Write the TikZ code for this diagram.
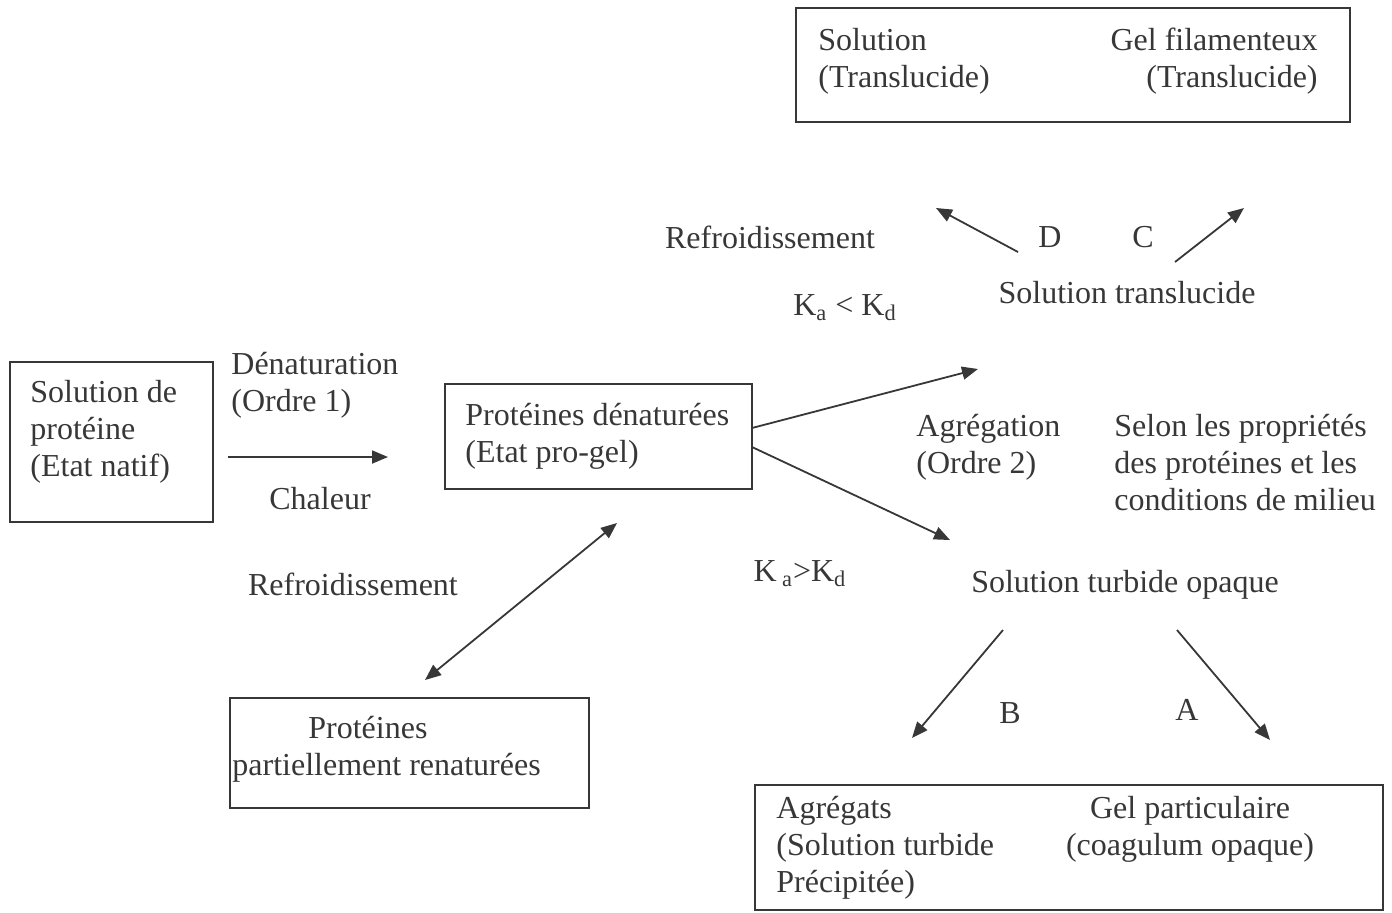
\documentclass[tikz,border=0pt]{standalone}
\usepackage{fontspec}
\setmainfont{Liberation Serif}
\usepackage{xcolor}
\usepackage{tikz}
\usetikzlibrary{arrows.meta,positioning}
\definecolor{ink}{RGB}{55,55,55}

\begin{document}
\begin{tikzpicture}[x=0.5pt,y=-0.5pt,
    every node/.style={font=\fontsize{16}{18.5}\selectfont,text=ink},
    box/.style={draw=ink,line width=0.9pt,inner sep=0pt},
    txt/.style={inner sep=0pt,anchor=north west,align=left},
    arr/.style={draw=ink,line width=0.9pt,-{Triangle[length=8pt,width=6.5pt]}}]
    \useasboundingbox (0,0) rectangle (1392,912);
    % boxes
    \node[box,minimum width=277pt,minimum height=57pt] (gelbox) at (1073,65) {};
    \node[box,minimum width=101.5pt,minimum height=80pt] (natif) at (111.5,442) {};
    \node[box,minimum width=153.5pt,minimum height=52.5pt] (denat) at (598.5,436.5) {};
    \node[box,minimum width=179.5pt,minimum height=55pt] (renat) at (409.5,753) {};
    \node[box,minimum width=314pt,minimum height=62.5pt] (aggbox) at (1069,847.5) {};
    % texts in boxes
    \node[txt] (soltxt) at (818,28) {Solution\\(Translucide)};
    \node[txt,anchor=north east,align=right] (geltxt) at (1318,28) {Gel filamenteux\\(Translucide)};
    \node[txt] (natiftxt) at (30,380) {Solution de\\prot\'eine\\(Etat natif)};
    \node[txt] (denattxt) at (465,403) {Prot\'eines d\'enatur\'ees\\(Etat pro-gel)};
    \node[txt] (renattxt) at (232,716) {\hspace*{38pt}Prot\'eines\\partiellement renatur\'ees};
    \node[txt] (aggtxt) at (776,796) {Agr\'egats\\(Solution turbide\\Pr\'ecipit\'ee)};
    \node[txt,anchor=north,align=center] (coagtxt) at (1190,796) {Gel particulaire\\(coagulum opaque)};
    % labels
    \node[txt] (denlbl) at (231,352) {D\'enaturation\\(Ordre 1)};
    \node (chaleur) at (320,499) {Chaleur};
    \node (refr1) at (770,237) {Refroidissement};
    \node (lblD) at (1050,237) {D};
    \node (lblC) at (1143,237) {C};
    \node (soltrans) at (1127,293) {Solution translucide};
    \node (kless) at (845,308) {K\textsubscript{a} < K\textsubscript{d}};
    \node[txt] (agglbl) at (916,414) {Agr\'egation\\(Ordre 2)};
    \node[txt] (selon) at (1114,414) {Selon les propri\'et\'es\\des prot\'eines et les\\conditions de milieu};
    \node (kmore) at (800,574) {K\,\textsubscript{a}>K\textsubscript{d}};
    \node (solturb) at (1125,585) {Solution turbide opaque};
    \node (refr2) at (353,584) {Refroidissement};
    \node (lblB) at (1010,713) {B};
    \node (lblA) at (1187,710) {A};
    % arrow ends
    \coordinate (dn-a) at (228,457);
    \coordinate (dn-b) at (388,457);
    \coordinate (up-a) at (752,428);
    \coordinate (up-b) at (978,369);
    \coordinate (lo-a) at (752,447);
    \coordinate (lo-b) at (950,540);
    \coordinate (d-a) at (1018,252);
    \coordinate (d-b) at (936,208);
    \coordinate (c-a) at (1175,262);
    \coordinate (c-b) at (1244,208);
    \coordinate (b-a) at (1003,630);
    \coordinate (b-b) at (912,738);
    \coordinate (a-a) at (1177,630);
    \coordinate (a-b) at (1270,740);
    \coordinate (rf-a) at (425,680);
    \coordinate (rf-b) at (617,523);
    % arrows
    \draw[arr] (dn-a) -- (dn-b);
    \draw[arr] (up-a) -- (up-b);
    \draw[arr] (lo-a) -- (lo-b);
    \draw[arr] (d-a) -- (d-b);
    \draw[arr] (c-a) -- (c-b);
    \draw[arr] (b-a) -- (b-b);
    \draw[arr] (a-a) -- (a-b);
    \draw[arr,{Triangle[length=8pt,width=6.5pt]}-{Triangle[length=8pt,width=6.5pt]}] (rf-a) -- (rf-b);
\end{tikzpicture}
\end{document}
